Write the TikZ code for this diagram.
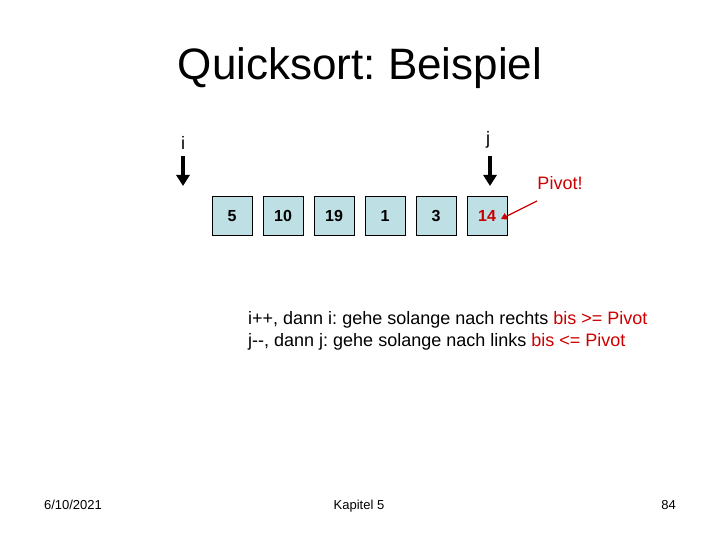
\documentclass[tikz,border=0pt]{standalone}
\usepackage{fontspec}
\setmainfont{Liberation Sans}
\usetikzlibrary{arrows.meta}
\definecolor{boxfill}{RGB}{190,223,227}
\definecolor{pivred}{RGB}{204,0,0}
\frenchspacing
\begin{document}
\begin{tikzpicture}[x=1pt,y=-1pt,
  cell/.style={draw=black,line width=0.6pt,fill=boxfill,minimum width=40pt,minimum height=39pt,inner sep=0pt,font=\fontsize{16}{18}\selectfont\bfseries},
  ptr/.style={line width=4pt,-{Triangle[width=13pt,length=11pt]}},
  lbl/.style={font=\fontsize{18}{20}\selectfont,inner sep=0pt},
  txt/.style={font=\fontsize{18}{22}\selectfont,anchor=west,inner sep=0pt},
  foot/.style={font=\fontsize{13}{15}\selectfont,inner sep=0pt,anchor=base}]
\useasboundingbox (0,0) rectangle (720,540);
\node[font=\fontsize{44}{50}\selectfont,inner sep=0pt] (title) at (360,68) {Quicksort: Beispiel};
\node[cell] (c1) at (232,216) {5};
\node[cell] (c2) at (283,216) {10};
\node[cell] (c3) at (334,216) {19};
\node[cell] (c4) at (385,216) {1};
\node[cell] (c5) at (436,216) {3};
\node[cell,text=pivred] (c6) at (487,216) {14};
\node[lbl] (li) at (183,143) {i};
\node[lbl] (lj) at (488,140) {j};
\coordinate (ia) at (183,156);
\coordinate (ib) at (183,186);
\coordinate (ja) at (490,156);
\coordinate (jb) at (490,186);
\draw[ptr] (ia) -- (ib);
\draw[ptr] (ja) -- (jb);
\node[lbl,text=pivred] (piv) at (560,183) {Pivot!};
\coordinate (pa) at (537,201);
\coordinate (pt) at (501,219);
\draw[pivred,line width=1.3pt,-{Triangle[width=7pt,length=6pt]}] (pa) -- (pt);
\node[txt] (t1) at (248,320) {i++, dann i: gehe solange nach rechts \textcolor{pivred}{bis >= Pivot}};
\node[txt] (t2) at (248,342) {j-{}-, dann j: gehe solange nach links \textcolor{pivred}{bis <= Pivot}};
\node[foot] (f1) at (73,509) {6/10/2021};
\node[foot] (f2) at (359,509) {Kapitel 5};
\node[foot,anchor=base east] (f3) at (676,509) {84};
\end{tikzpicture}
\end{document}
